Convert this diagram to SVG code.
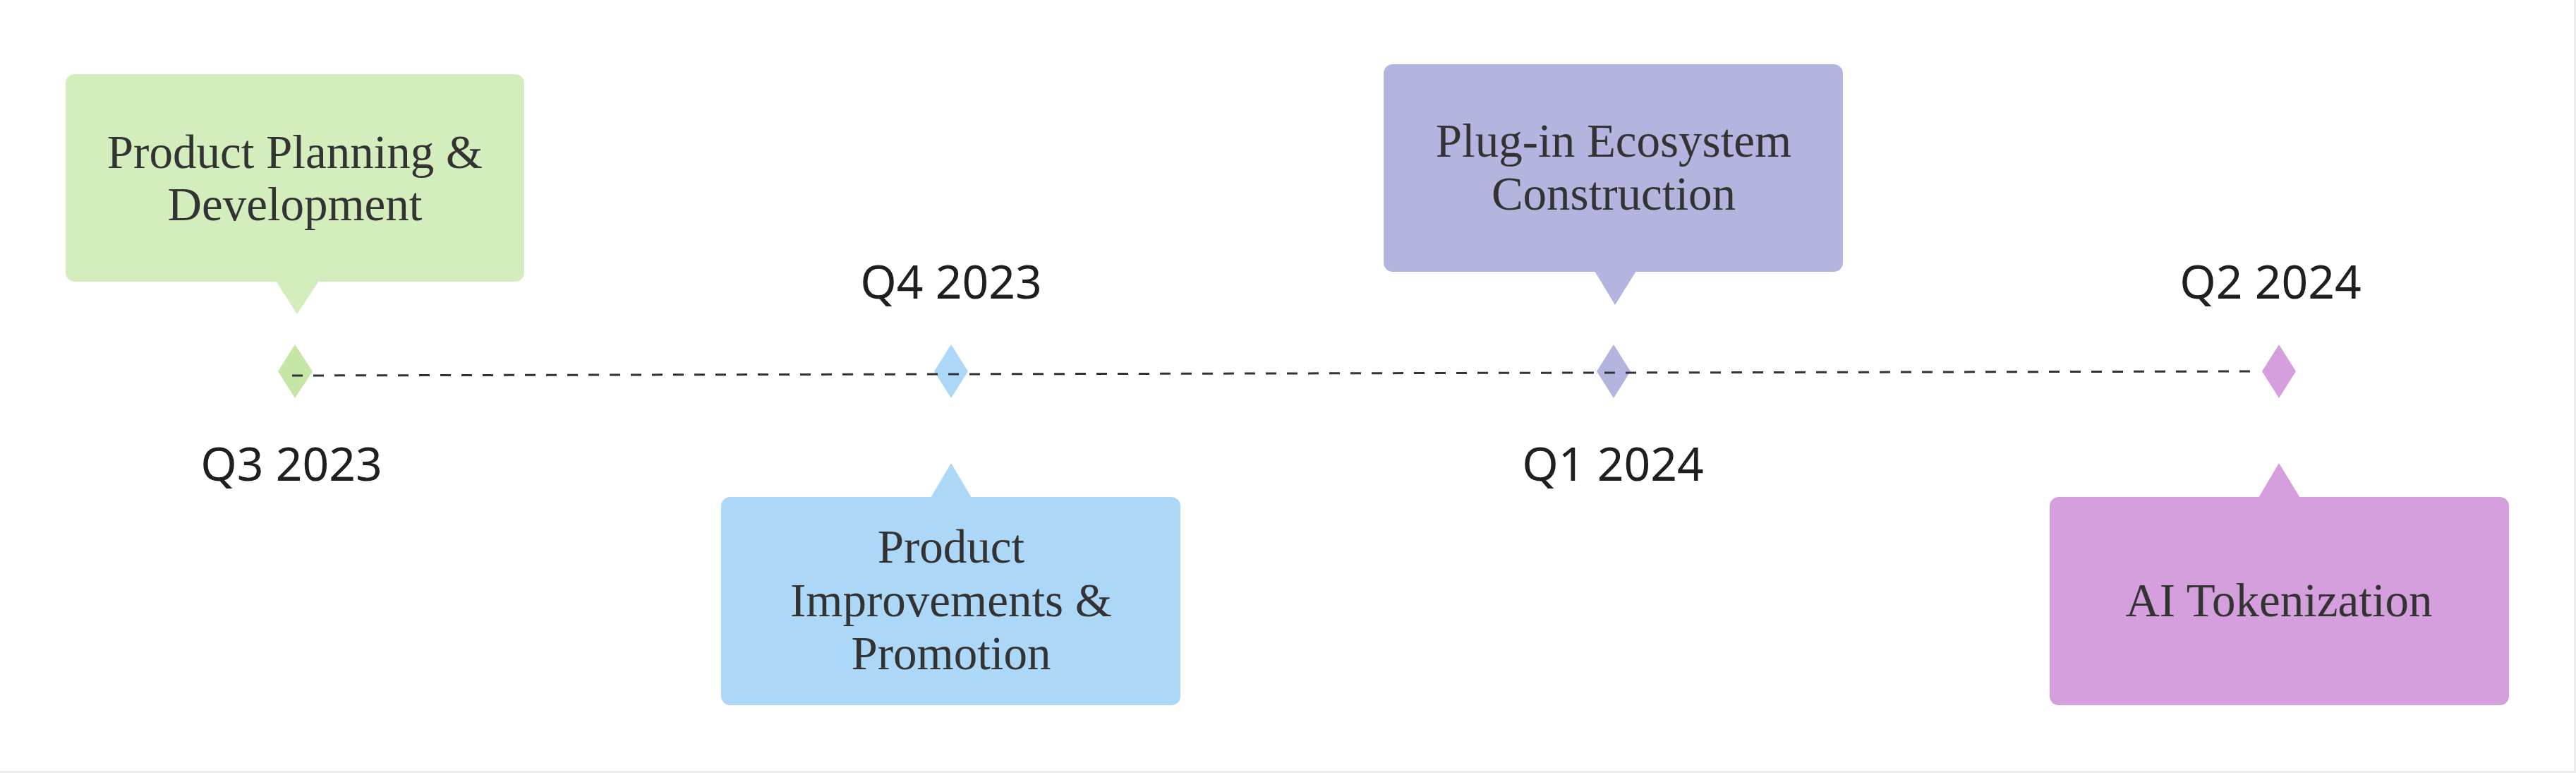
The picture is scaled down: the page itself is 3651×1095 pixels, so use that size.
<svg xmlns="http://www.w3.org/2000/svg" width="3651" height="1095" viewBox="0 0 3651 1095">
  <style>
    .box-text { font-family: "Liberation Serif", "Times New Roman", serif; font-size: 67px; fill: #333333; text-anchor: middle; }
    .date { font-family: "Noto Sans", "Open Sans", sans-serif; font-size: 66px; fill: #1f1f1f; text-anchor: middle; }
    .axis { fill: none; stroke: #333333; stroke-width: 3; stroke-dasharray: 15 15; }
  </style>
  <rect x="0" y="0" width="3651" height="1095" fill="#ffffff"/>
  <line x1="3649.5" y1="0" x2="3649.5" y2="1095" stroke="#ececec" stroke-width="3"/>
  <line x1="0" y1="1093.5" x2="3651" y2="1093.5" stroke="#ececec" stroke-width="3"/>

  <g id="milestone-q3-2023">
    <rect x="93" y="105" width="650" height="294" rx="13" fill="#d3edbc"/>
    <polygon points="391,398 452,398 421,445" fill="#d3edbc"/>
    <polygon points="418,488 443,526 418,564 394,526" fill="#c6e6a8"/>
    <text class="box-text" x="418" y="238">Product Planning &amp;</text>
    <text class="box-text" x="418" y="312">Development</text>
    <text class="date" x="413" y="681">Q3 2023</text>
  </g>

  <g id="milestone-q4-2023">
    <rect x="1022" y="704" width="651" height="295" rx="13" fill="#acd7f7"/>
    <polygon points="1319,705 1377,705 1348,656" fill="#acd7f7"/>
    <polygon points="1348,488 1372,526 1348,564 1324,526" fill="#acd7f7"/>
    <text class="box-text" x="1348" y="797">Product</text>
    <text class="box-text" x="1348" y="873">Improvements &amp;</text>
    <text class="box-text" x="1348" y="948">Promotion</text>
    <text class="date" x="1348" y="423">Q4 2023</text>
  </g>

  <g id="milestone-q1-2024">
    <rect x="1961" y="91" width="651" height="294" rx="13" fill="#b3b5df"/>
    <polygon points="2260,384 2319,384 2289,432" fill="#b3b5df"/>
    <polygon points="2287,488 2311,526 2287,564 2263,526" fill="#b3b5df"/>
    <text class="box-text" x="2287" y="222">Plug-in Ecosystem</text>
    <text class="box-text" x="2287" y="297">Construction</text>
    <text class="date" x="2286" y="681">Q1 2024</text>
  </g>

  <g id="milestone-q2-2024">
    <rect x="2905" y="704" width="651" height="295" rx="13" fill="#d59edd"/>
    <polygon points="3201,705 3260,705 3230,656" fill="#d59edd"/>
    <polygon points="3230,488 3254,526 3230,564 3206,526" fill="#d59edd"/>
    <text class="box-text" x="3230" y="873">AI Tokenization</text>
    <text class="date" x="3218" y="423">Q2 2024</text>
  </g>

  <g id="connectors">
    <path class="axis" d="M414,532 L3193,526"/>
  </g>
</svg>
